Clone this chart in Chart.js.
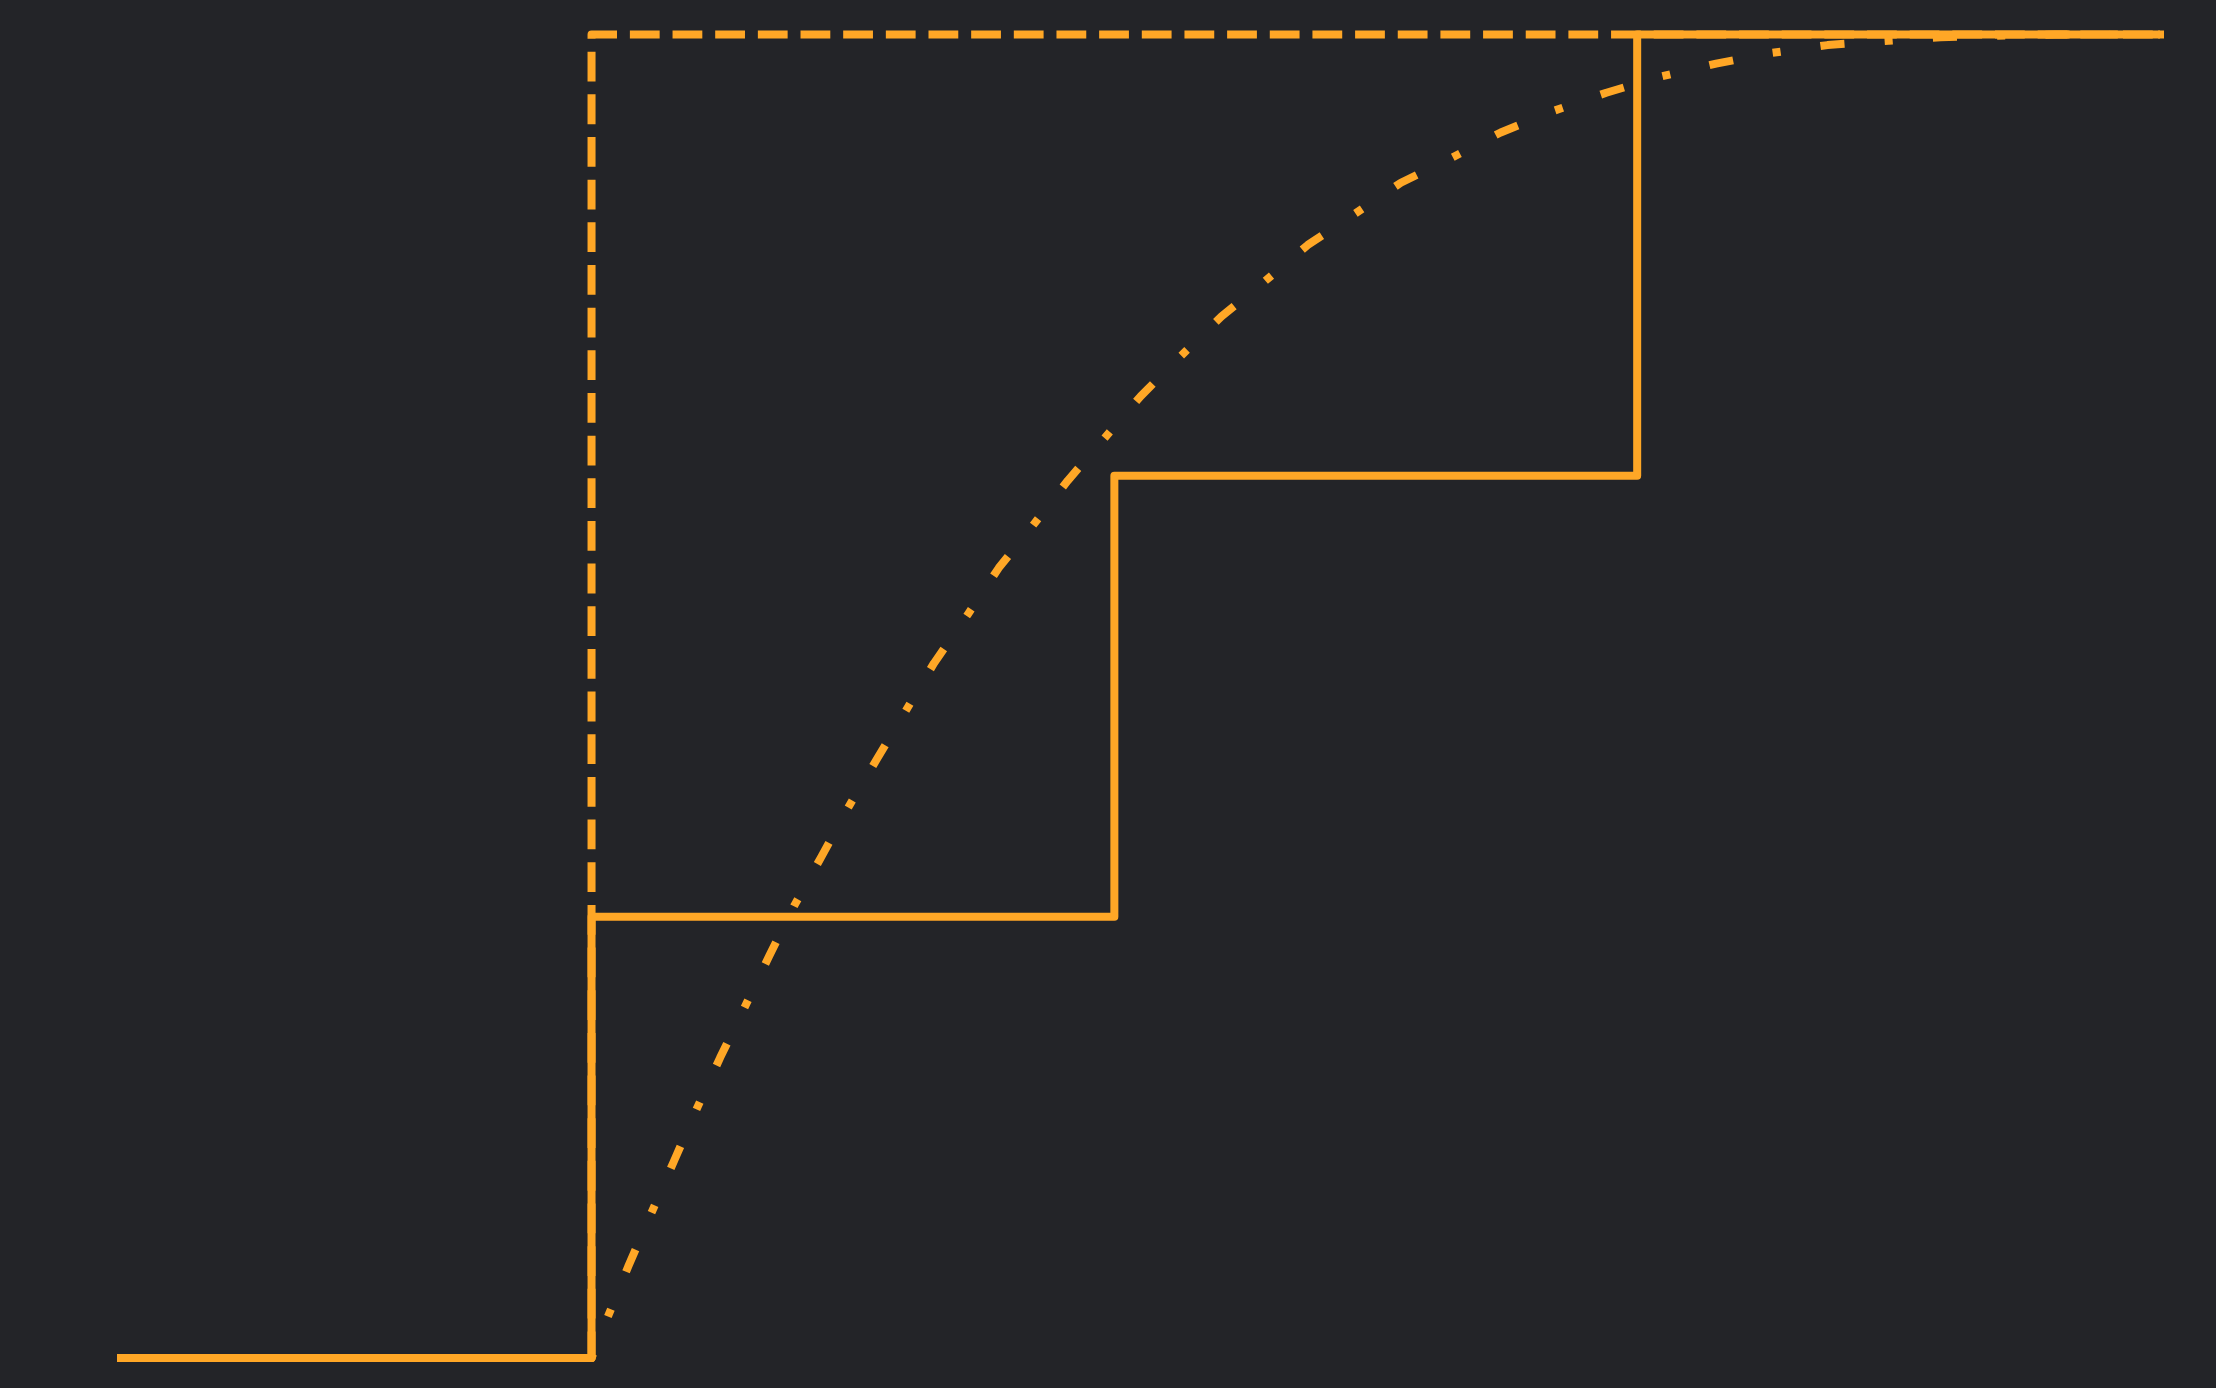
<!DOCTYPE html>
<html>
<head>
<meta charset="utf-8">
<style>
  html, body { margin: 0; padding: 0; background: #232428; }
  #c { display: block; background: #232428; }
</style>
<script src="https://cdn.jsdelivr.net/npm/chart.js@4.4.1/dist/chart.umd.min.js"></script>
</head>
<body>
<canvas id="c" width="2216" height="1388"></canvas>
<script>
// Solid step (discrete CDF)
const stepX = [-0.9, 0, 1, 2, 3];
const stepY = [0, 1/3, 2/3, 1, 1];
// Dashed step (point mass at 0)
const massX = [-0.9, 0, 3];
const massY = [0, 1, 1];
// Dash-dot smooth curve
const curveX = [-0.9, 0, 0.030, 0.070, 0.116, 0.159, 0.202, 0.246, 0.294, 0.340, 0.388, 0.440, 0.491, 0.545, 0.601, 0.655, 0.720, 0.779, 0.844, 0.911, 0.981, 1.051, 1.127, 1.205, 1.286, 1.370, 1.458, 1.548, 1.641, 1.739, 1.838, 1.941, 2.043, 2.151, 2.256, 2.364, 2.469, 2.580, 2.685, 2.800, 3.0];
const curveY = [0, 0, 0.030, 0.069, 0.111, 0.150, 0.189, 0.227, 0.266, 0.304, 0.342, 0.379, 0.416, 0.452, 0.489, 0.525, 0.562, 0.597, 0.629, 0.663, 0.695, 0.727, 0.757, 0.787, 0.813, 0.841, 0.864, 0.888, 0.906, 0.926, 0.942, 0.956, 0.968, 0.978, 0.986, 0.992, 0.995, 0.998, 0.999, 1.0, 1.0];

const COLOR = '#FFA726';
const toPts = (xs, ys) => xs.map((x, i) => ({x, y: ys[i]}));

new Chart(document.getElementById('c'), {
  type: 'line',
  data: {
    datasets: [
      {
        data: toPts(stepX, stepY),
        stepped: 'before',
        borderColor: COLOR,
        borderWidth: 8,
        borderCapStyle: 'square',
        borderJoinStyle: 'round',
        pointRadius: 0,
        fill: false,
        clip: false,
        order: 1
      },
      {
        data: toPts(massX, massY),
        stepped: 'before',
        borderColor: COLOR,
        borderWidth: 8,
        borderDash: [29.78, 12.88],
        borderDashOffset: 2.0,
        borderCapStyle: 'butt',
        borderJoinStyle: 'round',
        pointRadius: 0,
        fill: false,
        clip: false,
        order: 2
      },
      {
        data: toPts(curveX, curveY),
        borderColor: COLOR,
        borderWidth: 8,
        borderDash: [24.14, 40.24, 8.05, 40.24],
        borderCapStyle: 'butt',
        borderJoinStyle: 'round',
        tension: 0,
        pointRadius: 0,
        fill: false,
        clip: false,
        order: 3
      }
    ]
  },
  options: {
    responsive: false,
    devicePixelRatio: 1,
    animation: false,
    layout: { padding: { left: 121, right: 56, top: 34.5, bottom: 30 } },
    plugins: { legend: { display: false }, tooltip: { enabled: false } },
    scales: {
      x: { type: 'linear', display: false, min: -0.9, max: 3 },
      y: { type: 'linear', display: false, min: 0, max: 1 }
    }
  }
});
</script>
</body>
</html>
